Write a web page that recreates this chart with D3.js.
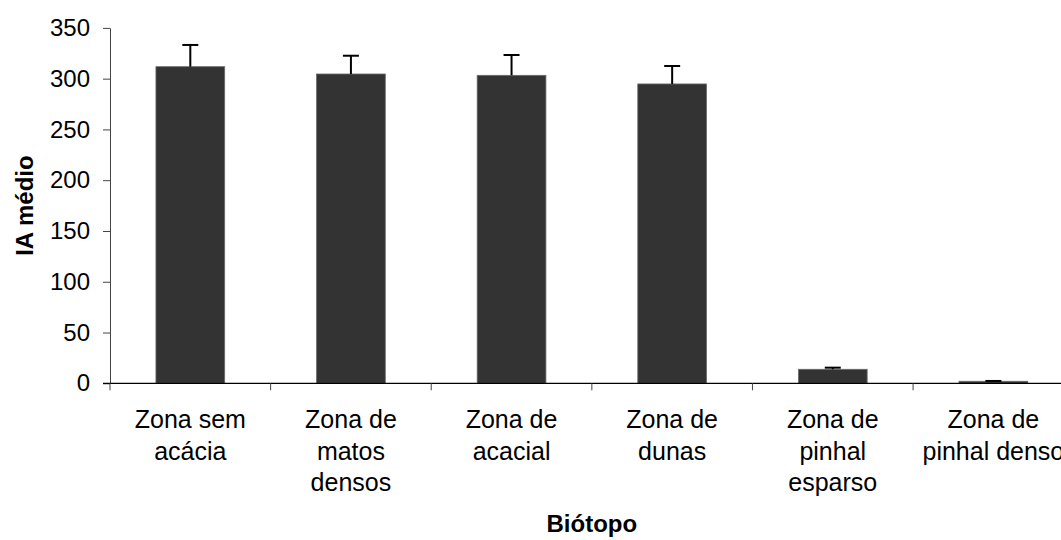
<!DOCTYPE html>
<html>
<head>
<meta charset="utf-8">
<script src="https://cdn.jsdelivr.net/npm/d3@7"></script>
<style>
  html, body { margin: 0; padding: 0; background: #fff; }
  svg { display: block; font-family: "Liberation Sans", Arial, sans-serif; }
</style>
</head>
<body>
<svg id="chart" width="1061" height="540"></svg>
<script>
// Biotope categories (each label split into its display lines)
const categories = [
  ["Zona sem", "acácia"],
  ["Zona de", "matos", "densos"],
  ["Zona de", "acacial"],
  ["Zona de", "dunas"],
  ["Zona de", "pinhal", "esparso"],
  ["Zona de", "pinhal denso"]
];
// Mean IA per biotope and its error (upper bar only)
const meanIA = [311.8, 304.6, 303.3, 294.8, 13.8, 2.0];
const errIA = [21.4, 18.0, 20.0, 17.7, 1.6, 0.3];
const yTicks = [0, 50, 100, 150, 200, 250, 300, 350];

const svg = d3.select("#chart");
const plotLeft = 110, plotRight = 1073.7, plotTop = 27.9, plotBottom = 383.3;

const x = d3.scaleBand()
  .domain(d3.range(categories.length))
  .range([plotLeft, plotRight])
  .paddingInner(0.572)
  .paddingOuter(0.286);

const band = d3.scaleBand().domain(d3.range(categories.length)).range([plotLeft, plotRight]);

const y = d3.scaleLinear().domain([0, 350]).range([plotBottom, plotTop]);

// Bars
svg.append("g").selectAll("rect")
  .data(meanIA)
  .join("rect")
  .attr("x", (d, i) => x(i))
  .attr("y", d => y(d))
  .attr("width", x.bandwidth())
  .attr("height", d => y(0) - y(d))
  .attr("fill", "#333333")
  .attr("stroke", "#6a6a6a")
  .attr("stroke-width", 0.8);

// Error bars (upper only)
const eb = svg.append("g").attr("stroke", "#000").attr("stroke-width", 2);
meanIA.forEach((m, i) => {
  const cx = x(i) + x.bandwidth() / 2;
  eb.append("line")
    .attr("x1", cx).attr("x2", cx)
    .attr("y1", y(m)).attr("y2", y(m + errIA[i]));
  eb.append("line")
    .attr("x1", cx - 8).attr("x2", cx + 8)
    .attr("y1", y(m + errIA[i])).attr("y2", y(m + errIA[i]));
});

// Y axis
const yAxis = svg.append("g")
  .attr("transform", `translate(${plotLeft},0)`)
  .call(d3.axisLeft(y).tickValues(yTicks).tickSize(7).tickPadding(13).tickSizeOuter(0));
yAxis.select(".domain").attr("stroke", "#444").attr("stroke-width", 1);
yAxis.selectAll(".tick line").attr("stroke", "#444");
yAxis.selectAll(".tick text")
  .attr("font-size", 24)
  .attr("fill", "#000")
  .attr("font-family", "Liberation Sans, Arial, sans-serif");

// X axis line and category separators
const xAxis = svg.append("g").attr("transform", `translate(0,${plotBottom})`);
xAxis.append("line")
  .attr("x1", plotLeft - 7).attr("x2", 1061)
  .attr("y1", 0).attr("y2", 0)
  .attr("stroke", "#000").attr("stroke-width", 1.2);
xAxis.selectAll("line.sep")
  .data(d3.range(categories.length + 1))
  .join("line")
  .attr("class", "sep")
  .attr("x1", i => plotLeft + i * band.bandwidth())
  .attr("x2", i => plotLeft + i * band.bandwidth())
  .attr("y1", 0).attr("y2", 7)
  .attr("stroke", "#444").attr("stroke-width", 1);

// Category labels
const labels = svg.append("g")
  .attr("font-size", 25)
  .attr("text-anchor", "middle")
  .attr("fill", "#000");
categories.forEach((lines, i) => {
  const t = labels.append("text")
    .attr("x", x(i) + x.bandwidth() / 2)
    .attr("y", 428);
  lines.forEach((ln, k) => {
    t.append("tspan")
      .attr("x", x(i) + x.bandwidth() / 2)
      .attr("y", 428 + k * 31.7)
      .text(ln);
  });
});

// Axis titles
svg.append("text")
  .attr("transform", `translate(33,${(plotTop + plotBottom) / 2}) rotate(-90)`)
  .attr("text-anchor", "middle")
  .attr("font-size", 24)
  .attr("font-weight", "bold")
  .text("IA médio");

svg.append("text")
  .attr("x", (plotLeft + plotRight) / 2)
  .attr("y", 532)
  .attr("text-anchor", "middle")
  .attr("font-size", 24)
  .attr("font-weight", "bold")
  .text("Biótopo");
</script>
</body>
</html>
